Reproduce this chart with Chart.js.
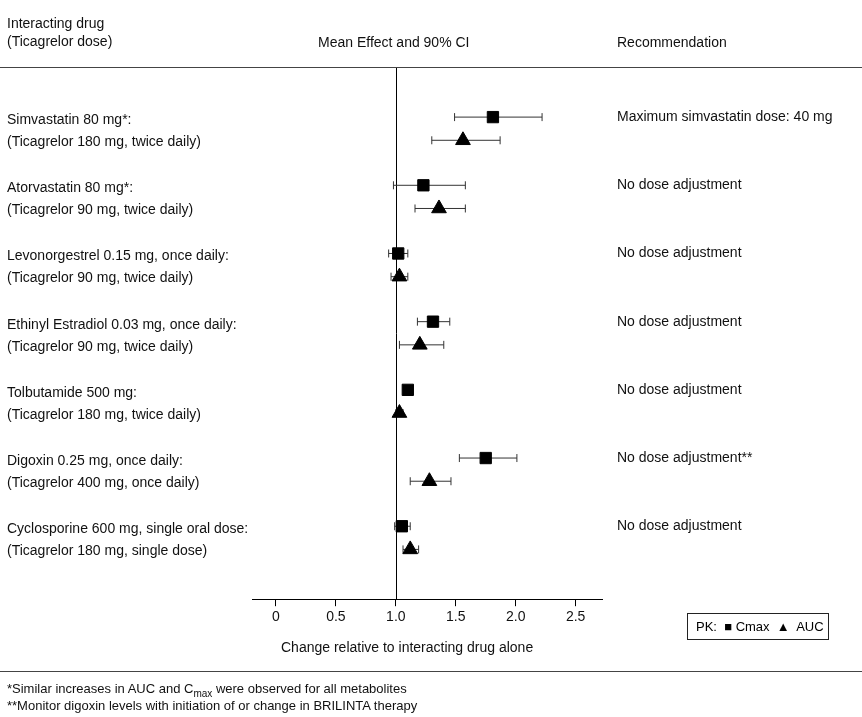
<!DOCTYPE html>
<html><head><meta charset="utf-8">
<script src="https://cdn.jsdelivr.net/npm/chart.js@4"></script>
<style>
body{margin:0;background:#fff;font-family:"Liberation Sans",Arial,sans-serif;}
#wrap{position:relative;width:862px;height:717px;}
.t{position:absolute;font-size:14px;color:#111;white-space:nowrap;line-height:18px}
.hr{position:absolute;left:0;width:862px;height:1px;background:#444}
</style></head><body>
<div id="wrap">
<canvas id="c" width="862" height="717"></canvas>
<div class="t" style="left:7px;top:14px">Interacting drug<br>(Ticagrelor dose)</div>
<div class="t" style="left:318px;top:33px">Mean Effect and 90% CI</div>
<div class="t" style="left:617px;top:33px">Recommendation</div>
<div class="hr" style="top:67px"></div>
<div class="t" style="left:281px;top:638px">Change relative to interacting drug alone</div>
<div style="position:absolute;left:687px;top:613px;width:142px;height:27px;border:1px solid #222;box-sizing:border-box;font-size:13px;line-height:25px;padding-left:8px;font-family:'Liberation Sans Narrow','Liberation Sans',sans-serif">PK:&nbsp; ■ Cmax&nbsp; ▲&nbsp; AUC</div>
<div class="hr" style="top:671px"></div>
<div class="t" style="left:7px;top:680px;font-size:13px">*Similar increases in AUC and C<sub style="font-size:10px">max</sub> were observed for all metabolites</div>
<div class="t" style="left:7px;top:697px;font-size:13px">**Monitor digoxin levels with initiation of or change in BRILINTA therapy</div>
</div>
<script>
const drugs=["Simvastatin 80 mg*:","Atorvastatin 80 mg*:","Levonorgestrel 0.15 mg, once daily:","Ethinyl Estradiol 0.03 mg, once daily:","Tolbutamide 500 mg:","Digoxin 0.25 mg, once daily:","Cyclosporine 600 mg, single oral dose:"];
const doses=["(Ticagrelor 180 mg, twice daily)","(Ticagrelor 90 mg, twice daily)","(Ticagrelor 90 mg, twice daily)","(Ticagrelor 90 mg, twice daily)","(Ticagrelor 180 mg, twice daily)","(Ticagrelor 400 mg, once daily)","(Ticagrelor 180 mg, single dose)"];
const recs=["Maximum simvastatin dose: 40 mg","No dose adjustment","No dose adjustment","No dose adjustment","No dose adjustment","No dose adjustment**","No dose adjustment"];
const cmax=[1.81,1.23,1.02,1.31,1.10,1.75,1.05];
const cmaxLo=[1.49,0.98,0.94,1.18,1.10,1.53,0.99];
const cmaxHi=[2.22,1.58,1.10,1.45,1.10,2.01,1.12];
const auc=[1.56,1.36,1.03,1.20,1.03,1.28,1.12];
const aucLo=[1.30,1.16,0.96,1.03,1.00,1.12,1.06];
const aucHi=[1.87,1.58,1.10,1.40,1.06,1.46,1.19];
const xTicks=[0,0.5,1.0,1.5,2.0,2.5];
const aucOff=0.34;

const errBars={id:'err',beforeDatasetsDraw(ch){
  const {ctx,scales:{x,y},chartArea}=ch;
  ctx.save();ctx.strokeStyle='#000';ctx.lineWidth=1;
  const x1=Math.round(x.getPixelForValue(1))+0.5;
  ctx.beginPath();ctx.moveTo(x1,chartArea.top);ctx.lineTo(x1,chartArea.bottom);ctx.stroke();
  ctx.strokeStyle='#333';
  const bar=(lo,hi,yv)=>{const a=x.getPixelForValue(lo),b=x.getPixelForValue(hi),p=y.getPixelForValue(yv);
    if(b-a<1)return;ctx.beginPath();ctx.moveTo(a,p);ctx.lineTo(b,p);
    ctx.moveTo(a,p-4);ctx.lineTo(a,p+4);ctx.moveTo(b,p-4);ctx.lineTo(b,p+4);ctx.stroke();};
  drugs.forEach((d,i)=>{bar(cmaxLo[i],cmaxHi[i],i);bar(aucLo[i],aucHi[i],i+aucOff);});
  ctx.fillStyle='#111';ctx.font='14px "Liberation Sans", Arial, sans-serif';ctx.textBaseline='middle';
  drugs.forEach((d,i)=>{const p=y.getPixelForValue(i);
    ctx.fillText(d,7,p+3);ctx.fillText(doses[i],7,p+25);ctx.fillText(recs[i],617,p);});
  ctx.restore();
}};

new Chart(document.getElementById('c'),{
  type:'scatter',
  data:{datasets:[
    {label:'Cmax',data:cmax.map((v,i)=>({x:v,y:i})),pointStyle:'rect',pointRadius:8,backgroundColor:'#000',borderColor:'#000'},
    {label:'AUC',data:auc.map((v,i)=>({x:v,y:i+aucOff})),pointStyle:'triangle',pointRadius:8.5,backgroundColor:'#000',borderColor:'#000'}
  ]},
  options:{responsive:false,animation:false,
    layout:{padding:{left:252,right:260,top:68,bottom:88}},
    plugins:{legend:{display:false},tooltip:{enabled:false}},
    scales:{
      x:{type:'linear',min:-0.2,max:2.72,afterBuildTicks:a=>{a.ticks=xTicks.map(v=>({value:v}));},
        border:{display:true,color:'#000'},
        grid:{display:true,drawOnChartArea:false,drawTicks:true,tickLength:7,color:'#000'},
        ticks:{color:'#111',font:{size:14,family:'"Liberation Sans", Arial'},padding:3,maxRotation:0,
          callback:v=>v===0?'0':v.toFixed(1)}},
      y:{type:'linear',min:-0.72,max:7.07,reverse:true,display:false}
    }},
  plugins:[errBars]
});
</script>
</body></html>
